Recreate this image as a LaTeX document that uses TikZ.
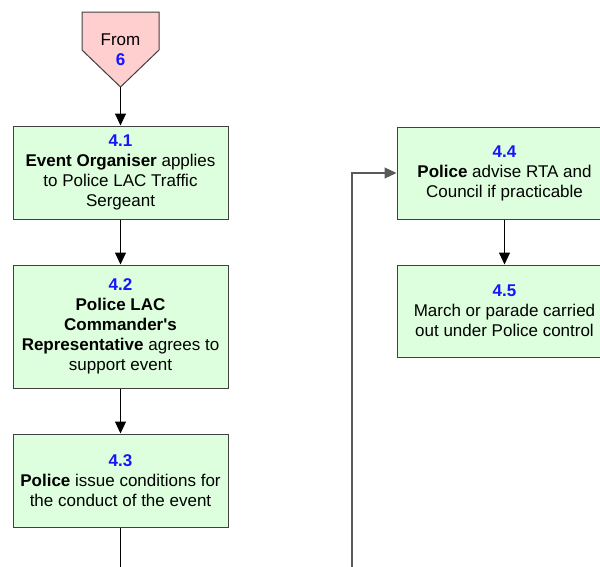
\documentclass[tikz,border=0pt]{standalone}
\usepackage{fontspec}
\setmainfont{Liberation Sans}
\usetikzlibrary{arrows.meta}
\definecolor{boxgreen}{RGB}{221,255,221}
\definecolor{boxpink}{RGB}{255,206,206}
\definecolor{numblue}{RGB}{20,20,255}
\definecolor{edgegray}{RGB}{64,64,64}
\definecolor{linegray}{RGB}{90,90,90}
\tikzset{
  stepbox/.style={draw=edgegray, line width=1pt, fill=boxgreen, rectangle,
    minimum width=215pt, inner sep=0pt, align=center,
    font=\fontsize{17pt}{20pt}\selectfont},
  flow/.style={draw=black, line width=1pt, -{Triangle[width=11pt,length=12pt]}},
  plainline/.style={draw=black, line width=1pt},
  backflow/.style={draw=linegray, line width=1.2pt, -{Triangle[width=11pt,length=12pt]}}
}
\newcommand{\stepnum}[1]{\textcolor{numblue}{\textbf{#1}}}
\begin{document}
\begin{tikzpicture}[x=1pt,y=-1pt]
\useasboundingbox (0,0) rectangle (600,566);
\clip (0,0) rectangle (600,566);
% pentagon "From 6"
\draw[draw=edgegray, line width=1pt, fill=boxpink]
  (82,12) -- (159,12) -- (159,50) -- (120.5,87) -- (82,50) -- cycle;
\coordinate (ptip) at (120.5,87);
\node[align=center, font=\fontsize{17pt}{20pt}\selectfont] (from) at (120.5,50) {From\\\stepnum{6}};
% boxes
\node[stepbox, minimum height=93pt] (b41) at (120.5,172.5)
  {\stepnum{4.1}\\\textbf{Event Organiser} applies\\to Police LAC Traffic\\Sergeant};
\node[stepbox, minimum height=123pt] (b42) at (120.5,326.5)
  {\stepnum{4.2}\\\textbf{Police LAC}\\\textbf{Commander\textquotesingle s}\\\textbf{Representative} agrees to\\support event};
\node[stepbox, minimum height=93pt] (b43) at (120.5,480.5)
  {\stepnum{4.3}\\\textbf{Police} issue conditions for\\the conduct of the event};
\node[stepbox, minimum height=92pt] (b44) at (504.5,173)
  {\stepnum{4.4}\\\textbf{Police} advise RTA and\\Council if practicable};
\node[stepbox, minimum height=92pt] (b45) at (504.5,311)
  {\stepnum{4.5}\\March or parade carried\\out under Police control};
% connectors
\coordinate (out43) at (120.5,580);
\coordinate (fbstart) at (352,580);
\draw[flow] (ptip) -- (b41.north);
\draw[flow] (b41.south) -- (b42.north);
\draw[flow] (b42.south) -- (b43.north);
\draw[plainline] (b43.south) -- (out43);
\draw[flow] (b44.south) -- (b45.north);
\draw[backflow] (fbstart) |- (b44.west);
\end{tikzpicture}
\end{document}
